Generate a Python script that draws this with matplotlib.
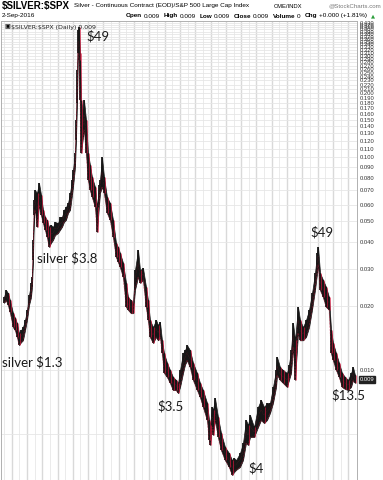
import matplotlib
matplotlib.use("Agg")
import matplotlib.pyplot as plt
import numpy as np

plt.rcParams["text.parse_math"] = False

# decimal years of the readings and the daily high / low band
dates = [
    1971.00, 1971.26, 1971.52, 1971.78, 1972.18, 1972.44, 1972.70, 1972.96, 1973.22, 1973.48,
    1973.75, 1974.01, 1974.27, 1974.53, 1974.66, 1974.79, 1974.92, 1975.05, 1975.31, 1975.58,
    1975.84, 1976.10, 1976.36, 1976.62, 1976.88, 1977.14, 1977.41, 1977.67, 1978.06, 1978.32,
    1978.58, 1978.84, 1979.10, 1979.37, 1979.63, 1979.89, 1980.02, 1980.28, 1980.41, 1980.54,
    1980.67, 1980.80, 1980.93, 1981.07, 1981.33, 1981.46, 1981.72, 1981.98, 1982.24, 1982.50,
    1982.90, 1983.16, 1983.42, 1983.55, 1983.81, 1984.07, 1984.46, 1984.86, 1985.25, 1985.64,
    1985.90, 1986.16, 1986.56, 1986.95, 1987.21, 1987.60, 1987.86, 1988.12, 1988.52, 1988.78,
    1989.17, 1989.56, 1989.82, 1990.08, 1990.48, 1990.87, 1991.13, 1991.39, 1991.65, 1991.92,
    1992.31, 1992.70, 1993.09, 1993.48, 1993.75, 1994.01, 1994.40, 1994.66, 1994.92, 1995.31,
    1995.71, 1996.23, 1996.62, 1997.01, 1997.54, 1997.80, 1997.93, 1998.19, 1998.32, 1998.58,
    1998.97, 1999.37, 1999.89, 2000.41, 2000.80, 2001.07, 2001.33, 2001.85, 2002.24, 2002.63,
    2002.90, 2003.16, 2003.68, 2004.20, 2004.59, 2004.99, 2005.38, 2005.77, 2006.16, 2006.56,
    2006.69, 2007.08, 2007.47, 2007.99, 2008.25, 2008.52, 2008.78, 2009.04, 2009.43, 2009.69,
    2010.08, 2010.48, 2010.87, 2011.26, 2011.65, 2011.92, 2012.05, 2012.31, 2012.70, 2013.09,
    2013.48, 2013.75, 2014.01, 2014.40, 2014.79, 2015.18, 2015.58, 2015.97, 2016.36, 2016.62,
    2016.88,
]
highs = [
    0.0220, 0.0238, 0.0230, 0.0213, 0.0185, 0.0176, 0.0166, 0.0149, 0.0154, 0.0159,
    0.0172, 0.0192, 0.0225, 0.0257, 0.0274, 0.0409, 0.0630, 0.0702, 0.0680, 0.0758,
    0.0666, 0.0566, 0.0524, 0.0508, 0.0471, 0.0481, 0.0471, 0.0497, 0.0491, 0.0524,
    0.0524, 0.0566, 0.0584, 0.0610, 0.0680, 0.0783, 0.0873, 0.105, 0.150, 0.258,
    0.397, 0.411, 0.310, 0.186, 0.162, 0.186, 0.150, 0.105, 0.0921, 0.0809,
    0.0726, 0.0584, 0.0742, 0.0783, 0.100, 0.0809, 0.0651, 0.0610, 0.0508, 0.0396,
    0.0379, 0.0355, 0.0319, 0.0257, 0.0220, 0.0213, 0.0207, 0.0295, 0.0367, 0.0295,
    0.0302, 0.0246, 0.0213, 0.0172, 0.0159, 0.0172, 0.0163, 0.0168, 0.0138, 0.0120,
    0.0108, 0.0100, 0.00927, 0.00898, 0.00869, 0.0100, 0.0120, 0.0124, 0.0131, 0.0124,
    0.0108, 0.00968, 0.00869, 0.00805, 0.00700, 0.00582, 0.00551, 0.00670, 0.00648, 0.00738,
    0.00601, 0.00505, 0.00434, 0.00407, 0.00377, 0.00386, 0.00377, 0.00407, 0.00454, 0.00582,
    0.00551, 0.00614, 0.00539, 0.00670, 0.00723, 0.00670, 0.00700, 0.00700, 0.00832, 0.0100,
    0.0115, 0.0103, 0.0100, 0.00968, 0.0106, 0.0124, 0.0166, 0.0138, 0.0198, 0.0172,
    0.0159, 0.0172, 0.0192, 0.0230, 0.0286, 0.0355, 0.0379, 0.0286, 0.0265, 0.0246,
    0.0220, 0.0154, 0.0134, 0.0120, 0.0108, 0.00968, 0.00927, 0.00898, 0.00968, 0.0103,
    0.00947,
]
lows = [
    0.0207, 0.0213, 0.0202, 0.0187, 0.0159, 0.0154, 0.0143, 0.0131, 0.0135, 0.0138,
    0.0154, 0.0172, 0.0202, 0.0220, 0.0246, 0.0329, 0.0536, 0.0566, 0.0471, 0.0597,
    0.0536, 0.0491, 0.0456, 0.0422, 0.0379, 0.0396, 0.0409, 0.0431, 0.0441, 0.0456,
    0.0471, 0.0497, 0.0508, 0.0548, 0.0566, 0.0666, 0.0726, 0.0900, 0.121, 0.180,
    0.310, 0.287, 0.186, 0.105, 0.125, 0.135, 0.105, 0.0783, 0.0702, 0.0651,
    0.0584, 0.0446, 0.0597, 0.0680, 0.0726, 0.0680, 0.0548, 0.0508, 0.0422, 0.0340,
    0.0322, 0.0305, 0.0274, 0.0198, 0.0192, 0.0185, 0.0185, 0.0238, 0.0274, 0.0257,
    0.0265, 0.0198, 0.0172, 0.0143, 0.0134, 0.0143, 0.0138, 0.0143, 0.0120, 0.00968,
    0.00927, 0.00869, 0.00805, 0.00805, 0.00779, 0.00832, 0.00968, 0.0106, 0.0111, 0.0103,
    0.00898, 0.00805, 0.00746, 0.00670, 0.00582, 0.00469, 0.00444, 0.00539, 0.00495, 0.00582,
    0.00484, 0.00420, 0.00377, 0.00350, 0.00321, 0.00331, 0.00339, 0.00350, 0.00377, 0.00454,
    0.00444, 0.00484, 0.00484, 0.00539, 0.00582, 0.00563, 0.00582, 0.00628, 0.00700, 0.00832,
    0.00947, 0.00898, 0.00869, 0.00832, 0.00898, 0.00968, 0.0128, 0.00898, 0.0149, 0.0138,
    0.0138, 0.0143, 0.0159, 0.0192, 0.0238, 0.0286, 0.0312, 0.0238, 0.0220, 0.0198,
    0.0192, 0.0120, 0.0111, 0.0100, 0.00927, 0.00832, 0.00814, 0.00805, 0.00832, 0.00898,
    0.00869,
]

tick_values = [round(0.01 * k, 3) for k in range(1, 44)]
year_lines = list(range(1971, 2017))
annotations = [
    ("$49", 1983.29, 0.372),
    ("silver $3.8", 1979.30, 0.0336),
    ("silver $1.3", 1974.73, 0.0109),
    ("$3.5", 1992.83, 0.00677),
    ("$4", 2003.94, 0.00346),
    ("$49", 2012.57, 0.0446),
    ("$13.5", 2015.97, 0.00760),
]
last_value = 0.009

W, H = 383, 480
fig = plt.figure(figsize=(W / 100, H / 100), dpi=100)
fig.patch.set_facecolor("white")


def fx(px):
    return px / W


def fy(py):
    return 1 - py / H


ax = fig.add_axes([fx(1), 0, fx(357) - fx(1), fy(21)])
ax.set_yscale("log")
ax.set_xlim(1970.61, 2017.14)
ax.set_ylim(0.00304, 0.438)

for i, yr in enumerate(year_lines):
    dark = i % 2 == 1
    ax.axvline(yr, color="#d9d9d9" if dark else "#ebebeb", lw=1.0 if dark else 0.7, zorder=0)
for v in tick_values + [0.005]:
    ax.axhline(v, color="#e6e6e6", lw=0.6, zorder=0)

d = np.array(dates)
hi = np.array(highs)
lo = np.array(lows)
mid = np.sqrt(hi * lo)
down = np.r_[False, mid[1:] < mid[:-1]]
ax.fill_between(d, lo, hi, color="#161616", lw=0.5, edgecolor="#161616", zorder=2)
ax.vlines(d, lo, hi, color="#161616", lw=1.3, zorder=3)
ax.vlines(d[down] + 0.08, lo[down], hi[down], color="#d9173f", lw=0.45, zorder=4)
ax.plot(d, lo, color="#d9173f", lw=0.4, ls=(0, (1, 1.6)), zorder=4)
ax.plot(d, mid, color="#d9173f", lw=0.3, ls=(0, (0.6, 2.5)), zorder=4)

ax.yaxis.tick_right()
ax.set_yticks(tick_values)
ax.set_yticklabels([f"{v:.3f}" for v in tick_values])
ax.yaxis.set_minor_locator(matplotlib.ticker.NullLocator())
ax.tick_params(axis="y", length=0, pad=2, labelsize=4.2, labelcolor="#333333")
for lab in ax.get_yticklabels():
    lab.set_fontfamily("Liberation Sans")
ax.set_xticks([])
for side in ["left", "top", "right"]:
    ax.spines[side].set_color("#b0b0b0")
    ax.spines[side].set_linewidth(0.7)
ax.spines["bottom"].set_visible(False)

ax.text(1.008, last_value, f"{last_value:.3f}", transform=ax.get_yaxis_transform(),
        fontsize=4.2, family="Liberation Sans", color="white", va="center", ha="left",
        bbox=dict(boxstyle="square,pad=0.15", fc="#222222", ec="#222222"), clip_on=False, zorder=10)

for txt, x, y in annotations:
    ax.text(x, y, txt, fontsize=9.5, family="Lato", color="#1a1a1a", ha="center", va="center",
            zorder=6, clip_on=False)

# header
fig.text(fx(2), fy(6), "$SILVER:$SPX", fontsize=7, weight="bold", family="Liberation Sans",
         va="center", ha="left")
fig.text(fx(74), fy(6), "Silver - Continuous Contract (EOD)/S&P 500 Large Cap Index",
         fontsize=4.6, family="Liberation Sans", va="center", ha="left")
fig.text(fx(274), fy(6), "CME/INDX", fontsize=4.2, family="Liberation Sans", va="center", ha="left")
fig.text(fx(381), fy(6), "@StockCharts.com", fontsize=4.4, family="Liberation Sans",
         color="#777777", va="center", ha="right")
fig.text(fx(2), fy(16), "2-Sep-2016", fontsize=4.6, family="Liberation Sans", va="center", ha="left")

header = [
    ("Open", True), ("0.009", False), ("High", True), ("0.009", False),
    ("Low", True), ("0.009", False), ("Close", True), ("0.009", False),
    ("Volume", True), ("0", False), ("Chg", True), ("+0.000 (+1.81%)", False),
]
renderer = fig.canvas.get_renderer()
xpos = 126
for txt, bold in header:
    t = fig.text(fx(xpos), fy(16), txt, fontsize=4.6, family="Liberation Sans",
                 weight="bold" if bold else "normal", va="center", ha="left")
    width = t.get_window_extent(renderer).width
    xpos += width + (1.5 if bold else 4.0)
fig.text(fx(xpos), fy(16), "\u25b2", fontsize=3.8, family="DejaVu Sans", color="#2a9d3a",
         va="center", ha="left")

fig.text(fx(4), fy(27), "\u25a3", fontsize=4.5, family="DejaVu Sans", va="center", ha="left")
fig.text(fx(11), fy(27), "$SILVER:$SPX (Daily) 0.009", fontsize=4.5, family="DejaVu Sans",
         color="#222222", va="center", ha="left")

fig.savefig("out.png", dpi=100)
